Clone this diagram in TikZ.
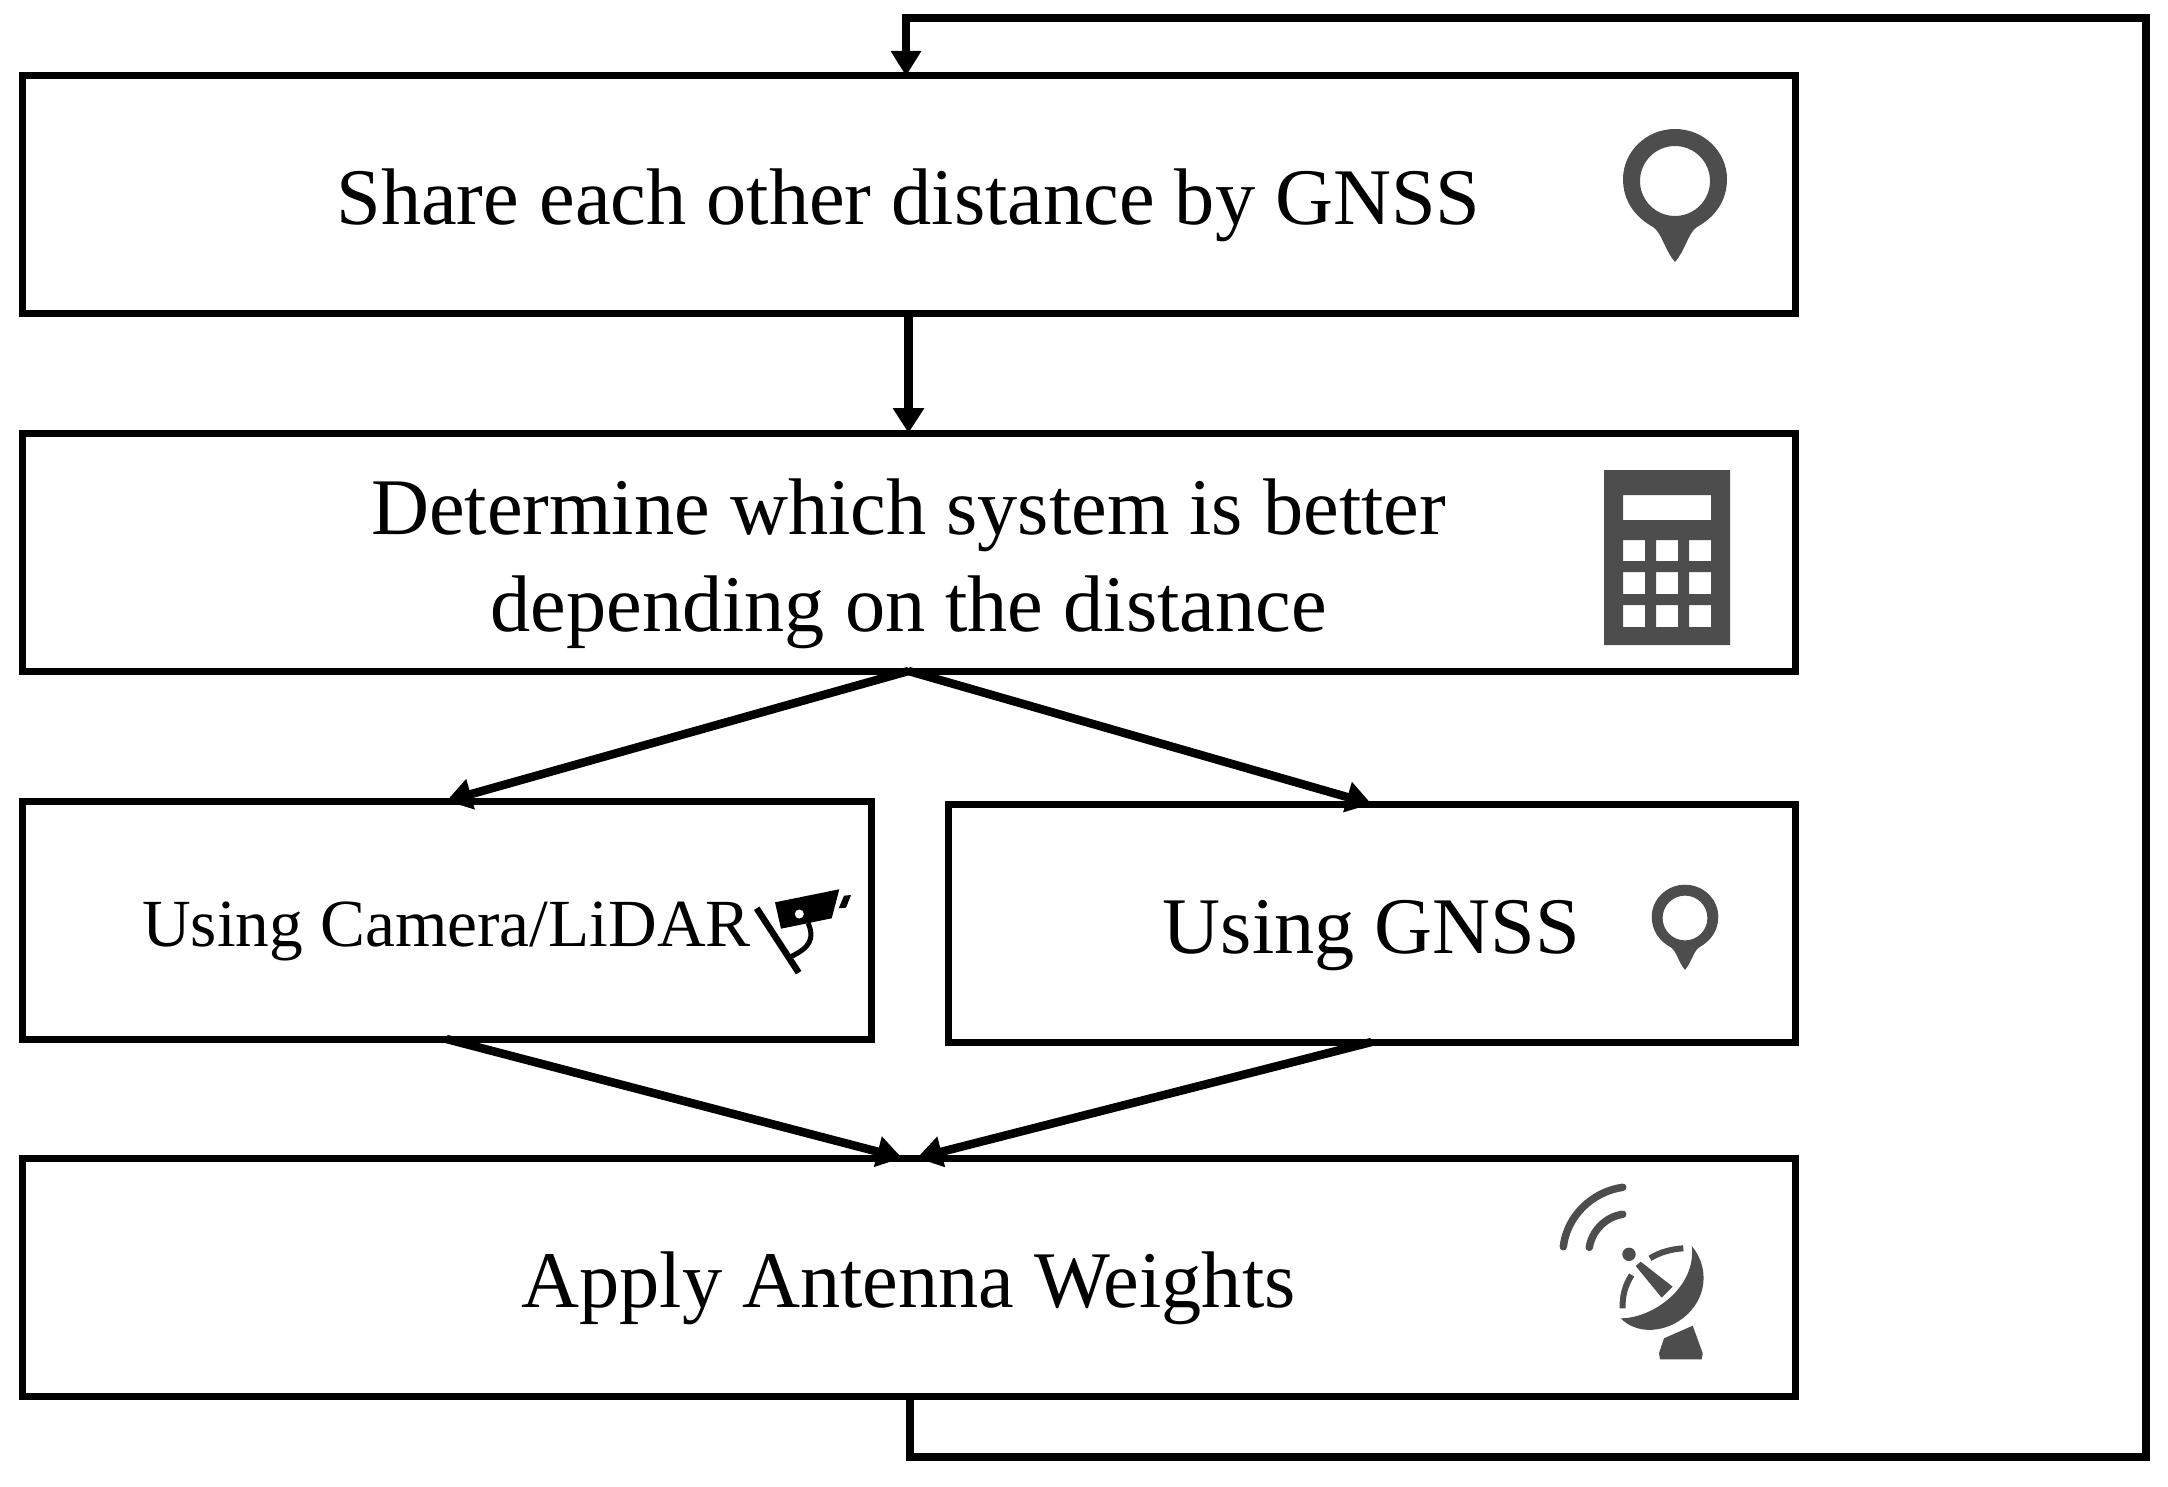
\documentclass[tikz,border=0pt]{standalone}
\usepackage{fontspec}
\setmainfont{Liberation Serif}
\usetikzlibrary{arrows.meta,calc}
\definecolor{icon}{HTML}{4D4D4D}
\tikzset{
  x=1pt,y=-1pt,
  box/.style={draw=black,line width=7pt,fill=white,rectangle,inner sep=0pt,outer sep=0pt,align=center,
     minimum height=238pt,font=\fontsize{80.3}{97}\selectfont,text height=80pt,text depth=20pt},
  wide/.style={box,minimum width=1773pt},
  half/.style={box,minimum width=848pt},
  conn/.style={line width=8.5pt,-{Triangle[length=25pt,width=30pt]}},
  loop/.style={line width=8pt,-{Triangle[length=25pt,width=29pt]}},
  pin/.pic={
    \fill[icon,even odd rule] (0,-52) .. controls (29,-52) and (52,-29) .. (52,-2)
      .. controls (52,20) and (40,36) .. (22,46)
      .. controls (13,52) and (10,70) .. (0,81)
      .. controls (-10,70) and (-13,52) .. (-22,46)
      .. controls (-40,36) and (-52,20) .. (-52,-2)
      .. controls (-52,-29) and (-29,-52) .. (0,-52) -- cycle
      (0,0) circle [radius=35];
  }
}
\begin{document}
\begin{tikzpicture}
\useasboundingbox (0,0) rectangle (2168,1487);
\node[wide] (b1) at (908.5,195) {Share each other distance by GNSS};
\node[wide,text height=180pt,text depth=22pt] (b2) at (908.5,552) {Determine which system is better\\depending on the distance};
\node[half,minimum width=849pt,font=\fontsize{67.4}{80}\selectfont,text height=70pt,text depth=18pt] (b3) at (446.5,920) {Using Camera/LiDAR};
\node[half,minimum width=847pt] (b4) at (1371.5,923) {Using GNSS};
\node[wide] (b5) at (908.5,1277) {Apply Antenna Weights};
\coordinate (in1) at (902,1158);
\coordinate (in2) at (917,1158);
\coordinate (loopa) at (910,1457);
\coordinate (loopb) at (2146,1457);
\coordinate (loopc) at (2146,18);
\coordinate (loopd) at (906,18);
\draw[conn] (b1.south) -- (b2.north);
\draw[conn] (b2.south) -- (b3.north);
\draw[conn] (b2.south) -- (b4.north);
\draw[conn] (b3.south) -- (in1);
\draw[conn] (b4.south) -- (in2);
\draw[loop] (b5.south -| loopa) -- (loopa) -- (loopb) -- (loopc) -- (loopd) -- (b1.north -| loopd);
% pins
\pic at (1675,181) {pin};
\pic[scale=.64] at (1685,918) {pin};
% calculator
\fill[icon,even odd rule] (1604,470) rectangle (1730,645)
  (1623,495) rectangle (1711,520)
  (1623,540) rectangle (1645,561) (1656,540) rectangle (1678,561) (1689,540) rectangle (1711,561)
  (1623,572) rectangle (1645,594) (1656,572) rectangle (1678,594) (1689,572) rectangle (1711,594)
  (1623,605) rectangle (1645,627) (1656,605) rectangle (1678,627) (1689,605) rectangle (1711,627);
% camera
\fill[black] (775,902.3) -- (839.3,889.3) -- (831.7,918.3) -- (781,928.7) -- cycle;
\fill[white] (799.3,914) circle [radius=4.5];
\fill[black] (844,895.7) -- (851,895) -- (846,907.7) -- (838.7,908.3) -- cycle;
\draw[black,line width=6.5pt] (756.7,908.3) -- (798.7,972.7);
\draw[black,line width=5pt] (808,923) .. controls (815,938) and (810,948) .. (790,957);
% dish
\draw[icon,line width=7.5pt,line cap=round] (1563.3,1246.7) .. controls (1566.7,1216.7) and (1591.7,1191.7) .. (1622.7,1187.3);
\draw[icon,line width=7.5pt,line cap=round] (1589.3,1247.3) .. controls (1591.7,1231.7) and (1605,1216.7) .. (1622.7,1214.3);
\fill[icon] (1629,1254.3) circle [radius=6.7];
\fill[icon] (1640.7,1261.7) -- (1635.7,1266) -- (1661.7,1297.7) -- (1672.7,1286.7) -- cycle;
\draw[icon,line width=6pt] (1650,1258.3) .. controls (1660,1252) and (1672,1249) .. (1683.3,1248.3);
\draw[icon,line width=6pt] (1631.7,1275) .. controls (1625,1285) and (1622,1297) .. (1622.7,1308.3);
\fill[icon] (1691.7,1246) .. controls (1706.7,1263.3) and (1710,1293.3) .. (1686.7,1315)
  .. controls (1666.7,1333.3) and (1636.7,1335) .. (1620.7,1318.3)
  .. controls (1653.3,1318.3) and (1696.7,1286.7) .. (1691.7,1246) -- cycle;
\fill[icon] (1664,1338.3) -- (1692.7,1325.7) -- (1702.7,1353.3) -- (1701.7,1359.3) -- (1660,1359.3) -- (1659,1353.3) -- cycle;
\end{tikzpicture}
\end{document}
